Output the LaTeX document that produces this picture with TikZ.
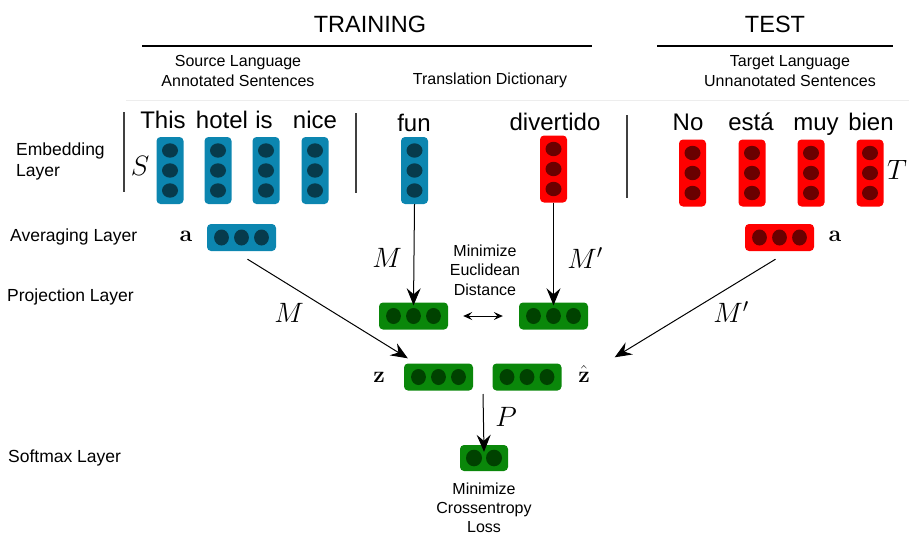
\RequirePackage{fix-cm}
\documentclass[tikz,border=0pt]{standalone}
\usepackage[no-math]{fontspec}
\setmainfont{Liberation Sans}
\usetikzlibrary{arrows.meta,calc}
\definecolor{bfill}{HTML}{0C86B0}
\definecolor{bdot}{HTML}{073B4C}
\definecolor{rfill}{HTML}{FF0000}
\definecolor{rdot}{HTML}{6A0000}
\definecolor{gfill}{HTML}{0A870A}
\definecolor{gdot}{HTML}{004200}
\tikzset{
  vvec/.style={rectangle, rounded corners=4pt, minimum width=27pt, minimum height=67pt, inner sep=0pt, fill=#1},
  hvec/.style={rectangle, rounded corners=4pt, minimum width=69pt, minimum height=27pt, inner sep=0pt, fill=#1},
  svec/.style={rectangle, rounded corners=4pt, minimum width=48pt, minimum height=26pt, inner sep=0pt, fill=#1},
  word/.style={anchor=base, inner sep=0pt, font=\fontsize{24}{28}\selectfont},
  sub/.style={align=center, inner sep=0pt, font=\fontsize{16}{19.5}\selectfont},
  layer/.style={anchor=west, align=left, inner sep=0pt, font=\fontsize{17.5}{21}\selectfont},
  mlab/.style={inner sep=0pt, font=\fontsize{28}{30}\selectfont},
  blab/.style={inner sep=0pt, font=\fontsize{23}{26}\selectfont},
  arr/.style={-{Stealth[length=17pt,width=14pt,inset=6pt]}, line width=1pt},
  darr/.style={{Stealth[length=9pt,width=8pt,inset=3.5pt]}-{Stealth[length=9pt,width=8pt,inset=3.5pt]}, line width=0.9pt},
  sep/.style={draw=black!75, line width=1.1pt},
}
\newcommand{\dotsv}[2]{\foreach \dd in {-20,0,20} \fill[#2] ($(#1)+(0,\dd)$) ellipse [x radius=8, y radius=7.2];}
\newcommand{\dotsh}[2]{\foreach \dd in {-20,0,20} \fill[#2] ($(#1)+(\dd,0)$) ellipse [x radius=7.4, y radius=8];}
\begin{document}
\begin{tikzpicture}[x=1pt,y=-1pt]
\useasboundingbox (0,0) rectangle (909,535);
% titles
\node[inner sep=0pt, font=\fontsize{23.5}{26}\selectfont] (train) at (370,24) {TRAINING};
\node[inner sep=0pt, font=\fontsize{23.5}{26}\selectfont] (test) at (775,24) {TEST};
\draw[line width=1.8pt] (142,46) -- (592,46);
\draw[line width=1.8pt] (657,46) -- (893,46);
\node[sub] (srcl) at (238,71) {Source Language\\Annotated Sentences};
\node[sub] (dict) at (490,80) {Translation Dictionary};
\node[sub] (tgtl) at (790,71) {Target Language\\Unnanotated Sentences};
\draw[black!7, line width=1pt] (126,100) -- (909,100);
% separators
\draw[sep] (124,112) -- (124,192);
\draw[sep] (356,113) -- (356,193);
\draw[sep] (627,115) -- (627,198);
% layer labels
\node[layer] (lemb) at (16,161) {Embedding\\Layer};
\node[layer] (lavg) at (10,237) {Averaging Layer};
\node[layer] (lproj) at (7,297) {Projection Layer};
\node[layer] (lsoft) at (8,458) {Softmax Layer};
% source sentence
\node[mlab] (S) at (140,166) {$S$};
\node[word] (w1) at (163,128) {This};
\node[word] (w2) at (222,128) {hotel};
\node[word] (w3) at (264,128) {is};
\node[word] (w4) at (315,128) {nice};
\foreach \n/\x in {e1/170,e2/218,e3/266,e4/315} {
  \node[vvec=bfill] (\n) at (\x,170.5) {};
  \dotsv{\n}{bdot}
}
% dictionary
\node[word] (wf) at (414,131) {fun};
\node[word] (wd) at (555,130) {divertido};
\node[vvec=bfill] (f) at (414.5,170.5) {};
\dotsv{f}{bdot}
\node[vvec=rfill] (d) at (553.5,169) {};
\dotsv{d}{rdot}
% target sentence
\node[word] (t1) at (688,130) {No};
\node[word] (t2) at (751,130) {está};
\node[word] (t3) at (816,130) {muy};
\node[word] (t4) at (871,130) {bien};
\foreach \n/\x in {r1/692.5,r2/752,r3/811,r4/870} {
  \node[vvec=rfill] (\n) at (\x,173) {};
  \dotsv{\n}{rdot}
}
\node[mlab] (T) at (897,170) {$T$};
% averaging
\node[blab] (aSl) at (186,236) {$\mathbf{a}$};
\node[hvec=bfill] (aS) at (241.5,237.5) {};
\dotsh{aS}{bdot}
\node[hvec=rfill] (aT) at (779.5,237.5) {};
\dotsh{aT}{rdot}
\node[blab] (aTl) at (835,236) {$\mathbf{a}$};
% projection
\node[hvec=gfill] (pL) at (413.5,316) {};
\dotsh{pL}{gdot}
\node[hvec=gfill] (pR) at (553.5,316) {};
\dotsh{pR}{gdot}
\node[sub] (eucl) at (485,270) {Minimize\\Euclidean\\Distance};
\draw[darr] ([xshift=15pt]pL.east) -- ([xshift=-16pt]pR.west);
\draw[arr] (f.south) -- ([yshift=-3pt]pL.north);
\draw[arr] (d.south) -- ([yshift=-3pt]pR.north);
\node[mlab] (m1) at (387,258) {$M$};
\node[mlab] (m2) at (585,258) {$M'$};
% z layer
\node[hvec=gfill] (zL) at (438.5,377) {};
\dotsh{zL}{gdot}
\node[hvec=gfill] (zR) at (527,377) {};
\dotsh{zR}{gdot}
\node[blab] (zl) at (379,377) {$\mathbf{z}$};
\node[blab] (zh) at (584,374) {$\hat{\mathbf{z}}$};
\draw[arr] ([shift={(6,8)}]aS.south) -- ([shift={(4,-5)}]zL.north west);
\draw[arr] ([shift={(-4,8)}]aT.south) -- ([shift={(53,-6)}]zR.north east);
\node[mlab] (m3) at (289,313) {$M$};
\node[mlab] (m4) at (731,312) {$M'$};
% softmax
\coordinate (zmid) at (483,394);
\node[svec=gfill] (sm) at (484,458) {};
\foreach \dd in {-10,10} \fill[gdot] ($(sm)+(\dd,0)$) ellipse [x radius=8, y radius=8.3];
\draw[arr] (zmid) -- ([yshift=-7pt]sm.north);
\node[mlab] (P) at (506,417) {$P$};
\node[sub, font=\fontsize{16}{19}\selectfont] (ce) at (484,508) {Minimize\\Crossentropy\\Loss};
\end{tikzpicture}
\end{document}
